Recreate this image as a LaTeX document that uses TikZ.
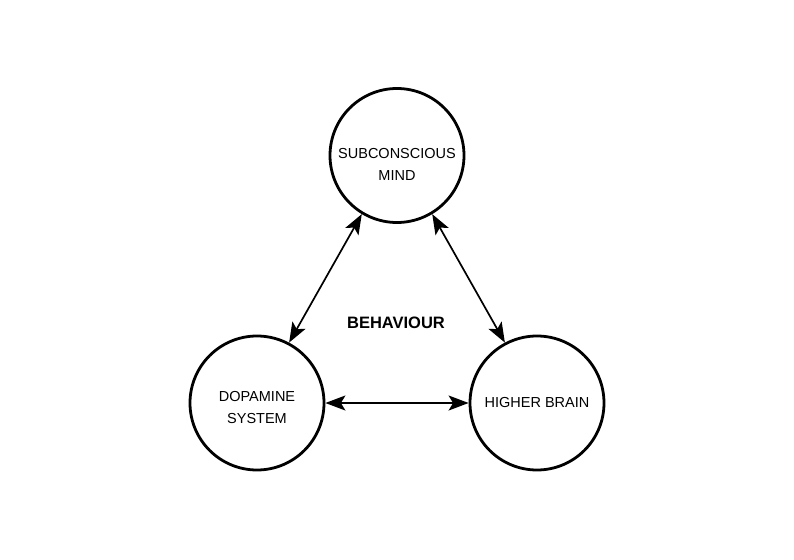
\documentclass[tikz,border=0pt]{standalone}
\usepackage{fontspec}
\setmainfont{Liberation Sans}
\usetikzlibrary{arrows.meta}
\tikzset{
  bubble/.style={circle, draw=black, line width=2.8pt, minimum size=134pt, inner sep=0pt},
  caption/.style={align=center, inner sep=0pt, font=\fontsize{14.5}{22}\selectfont},
  tip/.tip={Stealth[length=20pt,width=15pt,inset=4.5pt]},
  link/.style={line width=1.7pt, {tip}-{tip}},
  title/.style={font=\fontsize{16.5}{20}\selectfont\bfseries}
}
\begin{document}
\begin{tikzpicture}[x=1pt,y=-1pt]
  \useasboundingbox (0,0) rectangle (794,559);
  \node[bubble] (sub) at (397,155.5) {};
  \node[bubble] (dop) at (257,403) {};
  \node[bubble] (hig) at (537,403) {};
  \node[caption] (subt) at (397,164) {SUBCONSCIOUS\\MIND};
  \node[caption] (dopt) at (257,407.5) {DOPAMINE\\SYSTEM};
  \node[caption] (higt) at (537,402.5) {HIGHER BRAIN};
  \node[title] (beh) at (396,323) {BEHAVIOUR};
  \draw[link] (sub.239) -- (dop.62);
  \draw[link] (sub.301) -- (hig.118);
  \draw[link] (dop.east) -- (hig.west);
\end{tikzpicture}
\end{document}
